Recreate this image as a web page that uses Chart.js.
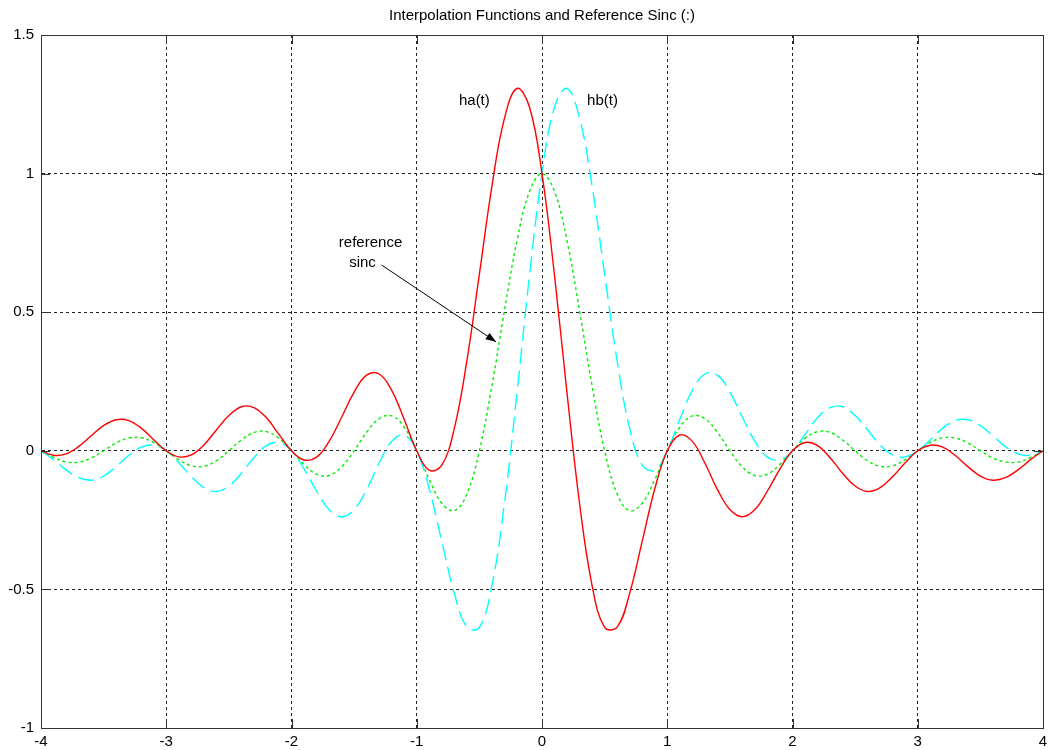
<!DOCTYPE html>
<html>
<head>
<meta charset="utf-8">
<script src="https://cdn.jsdelivr.net/npm/chart.js@4"></script>
<style>
  html, body { margin: 0; padding: 0; background: #fff; }
  #wrap { width: 1048px; height: 750px; }
</style>
</head>
<body>
<div id="wrap"><canvas id="interp"></canvas></div>
<script>
// sample times
var times = [-4.0,-3.9,-3.8,-3.7,-3.6,-3.5,-3.4,-3.3,-3.2,-3.1,
  -3.0,-2.9,-2.8,-2.7,-2.6,-2.5,-2.4,-2.3,-2.2,-2.1,
  -2.0,-1.9,-1.8,-1.7,-1.6,-1.5,-1.4,-1.3,-1.2,-1.1,
  -1.0,-0.9,-0.8,-0.7,-0.6,-0.5,-0.4,-0.3,-0.2,-0.1,
  0.0,0.1,0.2,0.3,0.4,0.5,0.6,0.7,0.8,0.9,
  1.0,1.1,1.2,1.3,1.4,1.5,1.6,1.7,1.8,1.9,
  2.0,2.1,2.2,2.3,2.4,2.5,2.6,2.7,2.8,2.9,
  3.0,3.1,3.2,3.3,3.4,3.5,3.6,3.7,3.8,3.9,4.0];

// ha(t), red solid
var haValues = [0,-0.016,-0.011,0.015,0.054,0.091,0.112,0.109,0.082,0.040,
  0,-0.022,-0.015,0.021,0.075,0.127,0.159,0.156,0.119,0.059,
  0,-0.033,-0.023,0.034,0.121,0.212,0.273,0.277,0.218,0.113,
  0,-0.070,-0.052,0.081,0.324,0.637,0.954,1.199,1.307,1.240,
  1,0.632,0.207,-0.190,-0.486,-0.637,-0.636,-0.514,-0.327,-0.138,
  0,0.057,0.034,-0.044,-0.139,-0.212,-0.238,-0.212,-0.145,-0.065,
  0,0.030,0.019,-0.025,-0.081,-0.127,-0.147,-0.133,-0.093,-0.043,
  0,0.020,0.013,-0.017,-0.057,-0.091,-0.106,-0.097,-0.069,-0.032,0];

// hb(t), cyan dashed
var hbValues = [0,-0.032,-0.069,-0.097,-0.106,-0.091,-0.057,-0.017,0.013,0.020,
  0,-0.043,-0.093,-0.133,-0.147,-0.127,-0.081,-0.025,0.019,0.030,
  0,-0.065,-0.145,-0.212,-0.238,-0.212,-0.139,-0.044,0.034,0.057,
  0,-0.138,-0.327,-0.514,-0.636,-0.637,-0.486,-0.190,0.207,0.632,
  1,1.240,1.307,1.199,0.954,0.637,0.324,0.081,-0.052,-0.070,
  0,0.113,0.218,0.277,0.273,0.212,0.121,0.034,-0.023,-0.033,
  0,0.059,0.119,0.156,0.159,0.127,0.075,0.021,-0.015,-0.022,
  0,0.040,0.082,0.109,0.112,0.091,0.054,0.015,-0.011,-0.016,0];

// reference sinc, green dotted
var sincValues = [0,-0.024,-0.040,-0.041,-0.026,0,0.028,0.046,0.047,0.030,
  0,-0.032,-0.054,-0.056,-0.036,0,0.039,0.066,0.069,0.045,
  0,-0.049,-0.084,-0.089,-0.058,0,0.067,0.116,0.126,0.085,
  0,-0.104,-0.189,-0.216,-0.156,0,0.234,0.505,0.757,0.935,
  1,0.935,0.757,0.505,0.234,0,-0.156,-0.216,-0.189,-0.104,
  0,0.085,0.126,0.116,0.067,0,-0.058,-0.089,-0.084,-0.049,
  0,0.045,0.069,0.066,0.039,0,-0.036,-0.056,-0.054,-0.032,
  0,0.030,0.047,0.046,0.028,0,-0.026,-0.040,-0.041,-0.024,0];

var xTicks = [-4, -3, -2, -1, 0, 1, 2, 3, 4];
var yTicks = [-1, -0.5, 0, 0.5, 1, 1.5];

var chartTitle = 'Interpolation Functions and Reference Sinc (:)';
var labelFont = '15px "Liberation Sans", Arial, sans-serif';

function pts(vals) {
  return times.map(function(t, i) { return { x: t, y: vals[i] }; });
}

// box, inner ticks, title and the text annotations
var frame = {
  id: 'frame',
  afterDraw: function(chart) {
    var ctx = chart.ctx, a = chart.chartArea;
    var xs = chart.scales.x, ys = chart.scales.y;
    ctx.save();
    ctx.strokeStyle = '#333';
    ctx.lineWidth = 1;
    ctx.strokeRect(Math.round(a.left) + 0.5, Math.round(a.top) + 0.5,
      Math.round(a.right - a.left), Math.round(a.bottom - a.top));
    ctx.beginPath();
    xTicks.forEach(function(v) {
      var px = Math.round(xs.getPixelForValue(v)) + 0.5;
      ctx.moveTo(px, a.bottom); ctx.lineTo(px, a.bottom - 9);
      ctx.moveTo(px, a.top); ctx.lineTo(px, a.top + 9);
    });
    yTicks.forEach(function(v) {
      var py = Math.round(ys.getPixelForValue(v)) + 0.5;
      ctx.moveTo(a.left, py); ctx.lineTo(a.left + 9, py);
      ctx.moveTo(a.right, py); ctx.lineTo(a.right - 9, py);
    });
    ctx.stroke();

    ctx.fillStyle = '#000';
    ctx.font = labelFont;
    ctx.textAlign = 'center';
    ctx.textBaseline = 'middle';
    ctx.fillText(chartTitle, (a.left + a.right) / 2, 16);

    function at(x, y) { return [xs.getPixelForValue(x), ys.getPixelForValue(y)]; }
    var p = at(-0.54, 1.263); ctx.fillText('ha(t)', p[0], p[1]);
    p = at(0.483, 1.263); ctx.fillText('hb(t)', p[0], p[1]);
    p = at(-1.369, 0.75); ctx.fillText('reference', p[0], p[1]);
    p = at(-1.433, 0.677); ctx.fillText('sinc', p[0], p[1]);

    // arrow
    var s = at(-1.28, 0.67), e = at(-0.367, 0.393);
    ctx.strokeStyle = '#000';
    ctx.beginPath();
    ctx.moveTo(s[0], s[1]); ctx.lineTo(e[0], e[1]);
    ctx.stroke();
    var ang = Math.atan2(e[1] - s[1], e[0] - s[0]);
    ctx.beginPath();
    ctx.moveTo(e[0], e[1]);
    ctx.lineTo(e[0] - 11 * Math.cos(ang - 0.35), e[1] - 11 * Math.sin(ang - 0.35));
    ctx.lineTo(e[0] - 11 * Math.cos(ang + 0.35), e[1] - 11 * Math.sin(ang + 0.35));
    ctx.closePath();
    ctx.fill();
    ctx.restore();
  }
};

var interp = document.getElementById('interp');
var interpChart = new Chart(interp, {
  type: 'line',
  data: {
    datasets: [
      {
        label: 'ha(t)',
        data: pts(haValues),
        borderColor: '#ff0000',
        borderWidth: 1.4,
        pointRadius: 0,
        tension: 0.4
      },
      {
        label: 'hb(t)',
        data: pts(hbValues),
        borderColor: '#00ffff',
        borderWidth: 1.4,
        borderDash: [16, 7],
        pointRadius: 0,
        tension: 0.4
      },
      {
        label: 'reference sinc',
        data: pts(sincValues),
        borderColor: '#00ee00',
        borderWidth: 1.4,
        borderDash: [3, 3],
        pointRadius: 0,
        tension: 0.4
      }
    ]
  },
  options: {
    responsive: true,
    maintainAspectRatio: false,
    animation: false,
    layout: { padding: { top: 35, right: 5, left: 0, bottom: 0 } },
    plugins: {
      legend: { display: false },
      tooltip: { enabled: false },
      title: { display: false }
    },
    scales: {
      x: {
        type: 'linear',
        min: -4,
        max: 4,
        afterBuildTicks: function(s) { s.ticks = xTicks.map(function(v) { return { value: v }; }); },
        afterFit: function(s) { s.height = 22; s.paddingLeft = 0; s.paddingRight = 0; },
        ticks: {
          color: '#000',
          font: { family: '"Liberation Sans", Arial, sans-serif', size: 15 },
          padding: 5,
          maxRotation: 0,
          callback: function(v) { return String(v); }
        },
        grid: { color: '#222', drawTicks: false, lineWidth: 1 },
        border: { display: true, color: '#333', dash: [3, 3] }
      },
      y: {
        min: -1,
        max: 1.5,
        afterBuildTicks: function(s) { s.ticks = yTicks.map(function(v) { return { value: v }; }); },
        afterFit: function(s) { s.width = 41; s.paddingTop = 0; s.paddingBottom = 0; },
        ticks: {
          color: '#000',
          font: { family: '"Liberation Sans", Arial, sans-serif', size: 15 },
          padding: 7,
          callback: function(v) { return String(v); }
        },
        grid: { color: '#222', drawTicks: false, lineWidth: 1 },
        border: { display: true, color: '#333', dash: [3, 3] }
      }
    }
  },
  plugins: [frame]
});
</script>
</body>
</html>
